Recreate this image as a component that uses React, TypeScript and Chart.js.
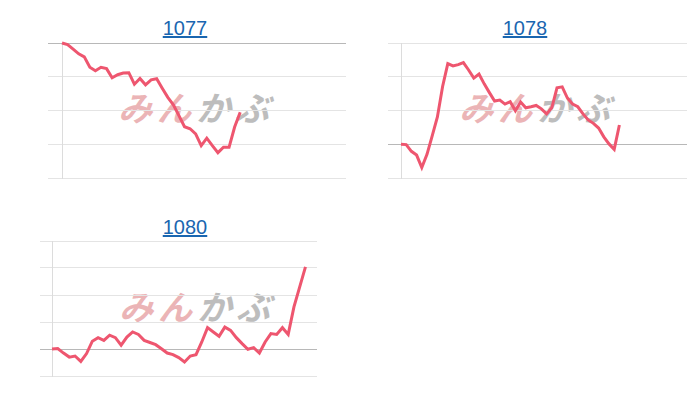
import React, { useEffect, useRef } from "react";
import { Chart, registerables } from "chart.js";

Chart.register(...registerables);

// ---- data ----
const titles = ["1077", "1078", "1080"];

const slots1077 = 52;
const values1077 = [
  0, -0.05, -0.18, -0.32, -0.41, -0.72, -0.82, -0.72, -0.76, -1.03, -0.94,
  -0.89, -0.88, -1.22, -1.05, -1.24, -1.09, -1.06, -1.34, -1.61, -1.83, -2.15,
  -2.48, -2.54, -2.69, -3.04, -2.82, -3.04, -3.25, -3.09, -3.09, -2.49, -2.05,
];
const range1077 = [-4, 0];

const slots1078 = 56;
const values1078 = [
  0, -0.01, -0.21, -0.32, -0.69, -0.3, 0.25, 0.81, 1.71, 2.39, 2.32, 2.36, 2.42,
  2.2, 1.96, 2.08, 1.79, 1.53, 1.28, 1.31, 1.19, 1.26, 0.99, 1.25, 1.08, 1.11,
  1.15, 1.05, 0.9, 1.08, 1.67, 1.7, 1.37, 1.19, 1.11, 0.9, 0.72, 0.62, 0.48,
  0.22, 0.01, -0.15, 0.57,
];
const range1078 = [-1, 3];

const slots1080 = 47;
const values1080 = [
  0, 0.02, -0.15, -0.3, -0.26, -0.46, -0.17, 0.29, 0.42, 0.32, 0.51, 0.42, 0.14,
  0.44, 0.63, 0.54, 0.32, 0.24, 0.16, 0.01, -0.15, -0.21, -0.32, -0.48, -0.26,
  -0.21, 0.26, 0.79, 0.63, 0.47, 0.81, 0.69, 0.42, 0.2, -0.01, 0.05, -0.15, 0.26,
  0.57, 0.54, 0.79, 0.54, 1.56, 2.3, 3.04,
];
const range1080 = [-1, 4];

const LINE_COLOR = "#ee566f";

type Box = { left: number; top: number; width: number; height: number; tick: number };

function MiniChart({
  slots,
  values,
  range,
  box,
}: {
  slots: number;
  values: number[];
  range: number[];
  box: Box;
}) {
  const ref = useRef<HTMLCanvasElement | null>(null);
  useEffect(() => {
    if (!ref.current) return;
    const labels = Array.from({ length: slots }, (_, i) => String(i));
    const chart = new Chart(ref.current, {
      type: "line",
      data: {
        labels,
        datasets: [
          {
            data: values,
            borderColor: LINE_COLOR,
            borderWidth: 3,
            pointRadius: 0,
            tension: 0,
            fill: false,
            clip: false as any,
          },
        ],
      },
      options: {
        animation: false,
        responsive: true,
        maintainAspectRatio: false,
        layout: { padding: { top: 2, bottom: 2, left: 0, right: 0 } },
        plugins: { legend: { display: false }, tooltip: { enabled: false } },
        scales: {
          x: { display: false },
          y: {
            min: range[0],
            max: range[1],
            ticks: { display: false, stepSize: 1 },
            grid: {
              drawTicks: true,
              tickLength: box.tick,
              lineWidth: 1,
              color: (c: any) => (c.tick && c.tick.value === 0 ? "#b8b8b8" : "#e4e4e4"),
            },
            border: { display: true, color: "#dcdcdc", width: 1 },
          },
        },
      },
    });
    return () => chart.destroy();
  }, []);
  return (
    <div
      style={{
        position: "absolute",
        left: box.left,
        top: box.top,
        width: box.width,
        height: box.height,
        zIndex: 2,
      }}
    >
      <canvas ref={ref} />
    </div>
  );
}

function Title({ text, cx, top }: { text: string; cx: number; top: number }) {
  return (
    <div
      style={{
        position: "absolute",
        left: cx - 60,
        top,
        width: 120,
        textAlign: "center",
        fontFamily: "'Liberation Sans', Arial, sans-serif",
        fontSize: 20,
        lineHeight: "20px",
      }}
    >
      <a href="#" style={{ color: "#1a66b0", textDecoration: "underline" }}>
        {text}
      </a>
    </div>
  );
}

function Watermark({ cx, cy }: { cx: number; cy: number }) {
  return (
    <div
      style={{
        position: "absolute",
        left: cx,
        top: cy,
        transform: "translate(-50%, -50%) skewX(-16deg)",
        fontFamily: "'Noto Sans CJK JP', sans-serif",
        fontWeight: 700,
        fontSize: 34,
        lineHeight: "34px",
        letterSpacing: 5,
        whiteSpace: "nowrap",
        zIndex: 1,
      }}
    >
      <span style={{ color: "#ebb4b6" }}>みん</span>
      <span style={{ color: "#bdbdbd" }}>かぶ</span>
    </div>
  );
}

export default function App() {
  return (
    <div style={{ width: 684, height: 384 }}>
      <Title text={titles[0]} cx={185} top={18} />
      <Title text={titles[1]} cx={525} top={18} />
      <Title text={titles[2]} cx={185} top={217} />
      <Watermark cx={200} cy={107} />
      <Watermark cx={541} cy={107} />
      <Watermark cx={201} cy={306} />
      <MiniChart
        slots={slots1077}
        values={values1077}
        range={range1077}
        box={{ left: 48, top: 41, width: 298, height: 139, tick: 14 }}
      />
      <MiniChart
        slots={slots1078}
        values={values1078}
        range={range1078}
        box={{ left: 388, top: 41, width: 299, height: 139, tick: 13 }}
      />
      <MiniChart
        slots={slots1080}
        values={values1080}
        range={range1080}
        box={{ left: 40, top: 239, width: 277, height: 139, tick: 12 }}
      />
    </div>
  );
}
